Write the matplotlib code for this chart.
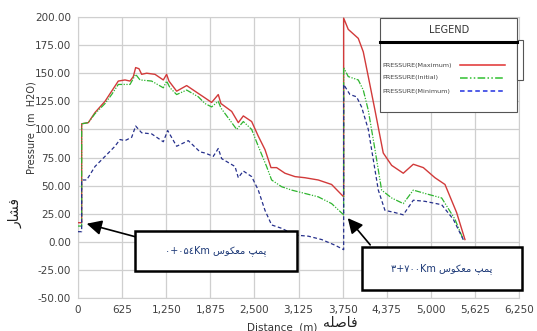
import numpy as np
import matplotlib
matplotlib.use("Agg")
import matplotlib.pyplot as plt
from matplotlib.patches import Rectangle
from matplotlib.lines import Line2D
from matplotlib.ticker import FuncFormatter

# --- data (distance m, pressure m H2O) ---
dist_max = [0, 52, 52, 146, 241, 383, 477, 571, 666, 737, 784, 817, 864, 902, 973, 1091,
            1209, 1256, 1289, 1398, 1540, 1705, 1800, 1894, 1988, 2026, 2178, 2272, 2343,
            2461, 2555, 2650, 2735, 2815, 2933, 3075, 3217, 3405, 3594, 3765, 3765, 3830,
            3972, 4043, 4114, 4209, 4326, 4445, 4610, 4752, 4894, 5059, 5201, 5366, 5484]
pres_max = [17, 17, 105, 106, 115, 125, 134, 143, 144, 143, 147, 155, 154, 149, 150, 149,
            144, 149, 143, 134, 139, 132, 128, 124, 131, 123, 116, 106, 112,
            107, 94, 82, 66, 66, 61, 58, 57, 55, 51, 40, 199, 189,
            181, 169, 147, 117, 79, 68, 61, 69, 66, 57, 51, 26, 2]

dist_init = [0, 52, 52, 146, 241, 383, 477, 571, 737, 817, 879, 1044, 1209, 1256, 1304,
             1398, 1540, 1705, 1800, 1894, 1988, 2026, 2249, 2343, 2461, 2555, 2673, 2744,
             2886, 3028, 3217, 3405, 3594, 3765, 3765, 3830, 3972, 4043, 4114, 4209, 4303,
             4445, 4610, 4752, 4918, 5154, 5343, 5460]
pres_init = [14, 14, 105, 106, 114, 123, 131, 140, 140, 149, 144, 143, 137, 143, 137,
             131, 135, 129, 123, 120, 125, 119, 100, 107, 100, 85, 67, 55,
             49, 46, 43, 40, 34, 24, 155, 147, 144, 135, 117, 82, 46,
             39, 34, 46, 43, 39, 20, 2]

dist_min = [0, 52, 52, 123, 241, 383, 524, 595, 666, 761, 817, 902, 1044, 1209, 1271,
            1398, 1563, 1729, 1800, 1917, 1988, 2036, 2225, 2272, 2343, 2461, 2555, 2650,
            2744, 2886, 3075, 3264, 3453, 3642, 3765, 3765, 3854, 3948, 4019, 4114, 4185,
            4256, 4350, 4492, 4610, 4752, 4918, 5154, 5319, 5460]
pres_min = [9, 9, 55, 55, 67, 76, 85, 91, 90, 93, 103, 97, 96, 89, 99,
            85, 90, 80, 79, 76, 83, 74, 67, 57, 63, 58, 46, 28,
            15, 12, 6, 5, 2, -3, -7, 140, 131, 129, 120, 100, 73,
            46, 28, 26, 24, 37, 36, 33, 20, 2]

x_ticks = np.arange(0, 6251, 625)
y_ticks = np.arange(-50, 201, 25)

# persian text in visual order (presentation forms, since matplotlib does no shaping)
pump = "\uFEB1\uFEEE\uFB91\uFECC\uFEE3 \uFB57\uFEE4\uFB58"   # پمپ معکوس
label1 = "\u06F0+\u06F0\u06F5\u0664Km " + pump
label2 = "\u06F3+\u06F7\u06F0\u06F0Km " + pump
fa_pressure = "\uFEAD\uFE8E\uFEB8\uFED3"            # فشار
fa_distance = "\uFEEA\uFEE0\uFEBB\uFE8E\uFED3"       # فاصله

W, H = 537, 331
fig = plt.figure(figsize=(W / 100, H / 100), dpi=100)
ax = fig.add_axes([78 / W, 1 - 298 / H, (519 - 78) / W, (298 - 17) / H])


def fp(x, y):
    # pixel position (from top-left) -> figure fraction
    return x / W, 1 - y / H


ax.plot(dist_max, pres_max, color="#d23a3a", lw=1.0, zorder=3)
ax.plot(dist_init, pres_init, color="#2fb52f", lw=0.9,
        dashes=(5, 1.2, 1, 1.2, 1, 1.2), zorder=3)
ax.plot(dist_min, pres_min, color="#26308c", lw=0.9, dashes=(3, 2), zorder=3)

ax.set_xlim(0, 6250)
ax.set_ylim(-50, 200)
ax.set_xticks(x_ticks)
ax.set_yticks(y_ticks)
ax.xaxis.set_major_formatter(FuncFormatter(lambda v, p: f"{v:,.0f}"))
ax.yaxis.set_major_formatter(FuncFormatter(lambda v, p: f"{v:.2f}"))
ax.tick_params(length=0, labelsize=7.5, labelcolor="#404040", pad=5)
ax.grid(True, color="#cfcfcf", lw=0.9)
for s in ax.spines.values():
    s.set_color("#cfcfcf")

fig.text(*fp(31, 128), "Pressure  (m  H2O)", rotation=90, ha="center", va="center",
         fontsize=7, color="#333333")
fig.text(*fp(15, 213), fa_pressure, rotation=90, ha="center", va="center",
         fontsize=10, color="#222222")
fig.text(*fp(282, 327), "Distance  (m)", ha="center", va="center", fontsize=7.5,
         color="#333333")
fig.text(*fp(340, 323), fa_distance, ha="center", va="center", fontsize=10,
         color="#222222")

# legend panel
lx0, lx1, ly0, ly1 = 380, 517, 18, 112
fig.add_artist(Rectangle(fp(lx0, ly1), (lx1 - lx0) / W, (ly1 - ly0) / H,
                         transform=fig.transFigure, fc="white", ec="#555555", lw=0.8))
fig.add_artist(Rectangle(fp(517, 80), 6 / W, 40 / H, transform=fig.transFigure,
                         fc="white", ec="#555555", lw=0.8))
fig.add_artist(Line2D([lx0 / W, lx1 / W], [1 - 42 / H] * 2, transform=fig.transFigure,
                      color="black", lw=2.2))
fig.text(*fp(449, 30), "LEGEND", ha="center", va="center", fontsize=7, color="#333333")
entries = [("PRESSURE(Maximum)", "#e03030", "-"),
           ("PRESSURE(Initial)", "#30c030", (0, (5, 1.5, 1, 1.5, 1, 1.5))),
           ("PRESSURE(Minimum)", "#2030e0", (0, (3, 2)))]
for i, (name, col, ls) in enumerate(entries):
    yy = 65 + 13 * i
    fig.text(*fp(382, yy), name, ha="left", va="center", fontsize=4.6, color="#444444")
    fig.add_artist(Line2D([460 / W, 505 / W], [1 - yy / H] * 2, transform=fig.transFigure,
                          color=col, lw=1.1, linestyle=ls))

# annotation boxes with arrows
boxes = [((135, 231, 297, 271), label1, (140, 238), (84, 223)),
         ((362, 247, 522, 290), label2, (372, 247), (346, 216))]
for (bx0, by0, bx1, by1), txt, tail, tip in boxes:
    fig.add_artist(Rectangle(fp(bx0, by1), (bx1 - bx0) / W, (by1 - by0) / H,
                             transform=fig.transFigure, fc="white", ec="black",
                             lw=1.8, zorder=5))
    fig.text(*fp((bx0 + bx1) / 2, (by0 + by1) / 2), txt, ha="center", va="center",
             fontsize=7, color="#1e3a78", zorder=6)
    ax.annotate("", xy=fp(*tip), xycoords="figure fraction",
                xytext=fp(*tail), textcoords="figure fraction",
                arrowprops=dict(arrowstyle="-|>,head_length=0.9,head_width=0.45",
                                color="black", lw=1.2, mutation_scale=10),
                zorder=6, annotation_clip=False)

fig.savefig("out.png", dpi=100)
